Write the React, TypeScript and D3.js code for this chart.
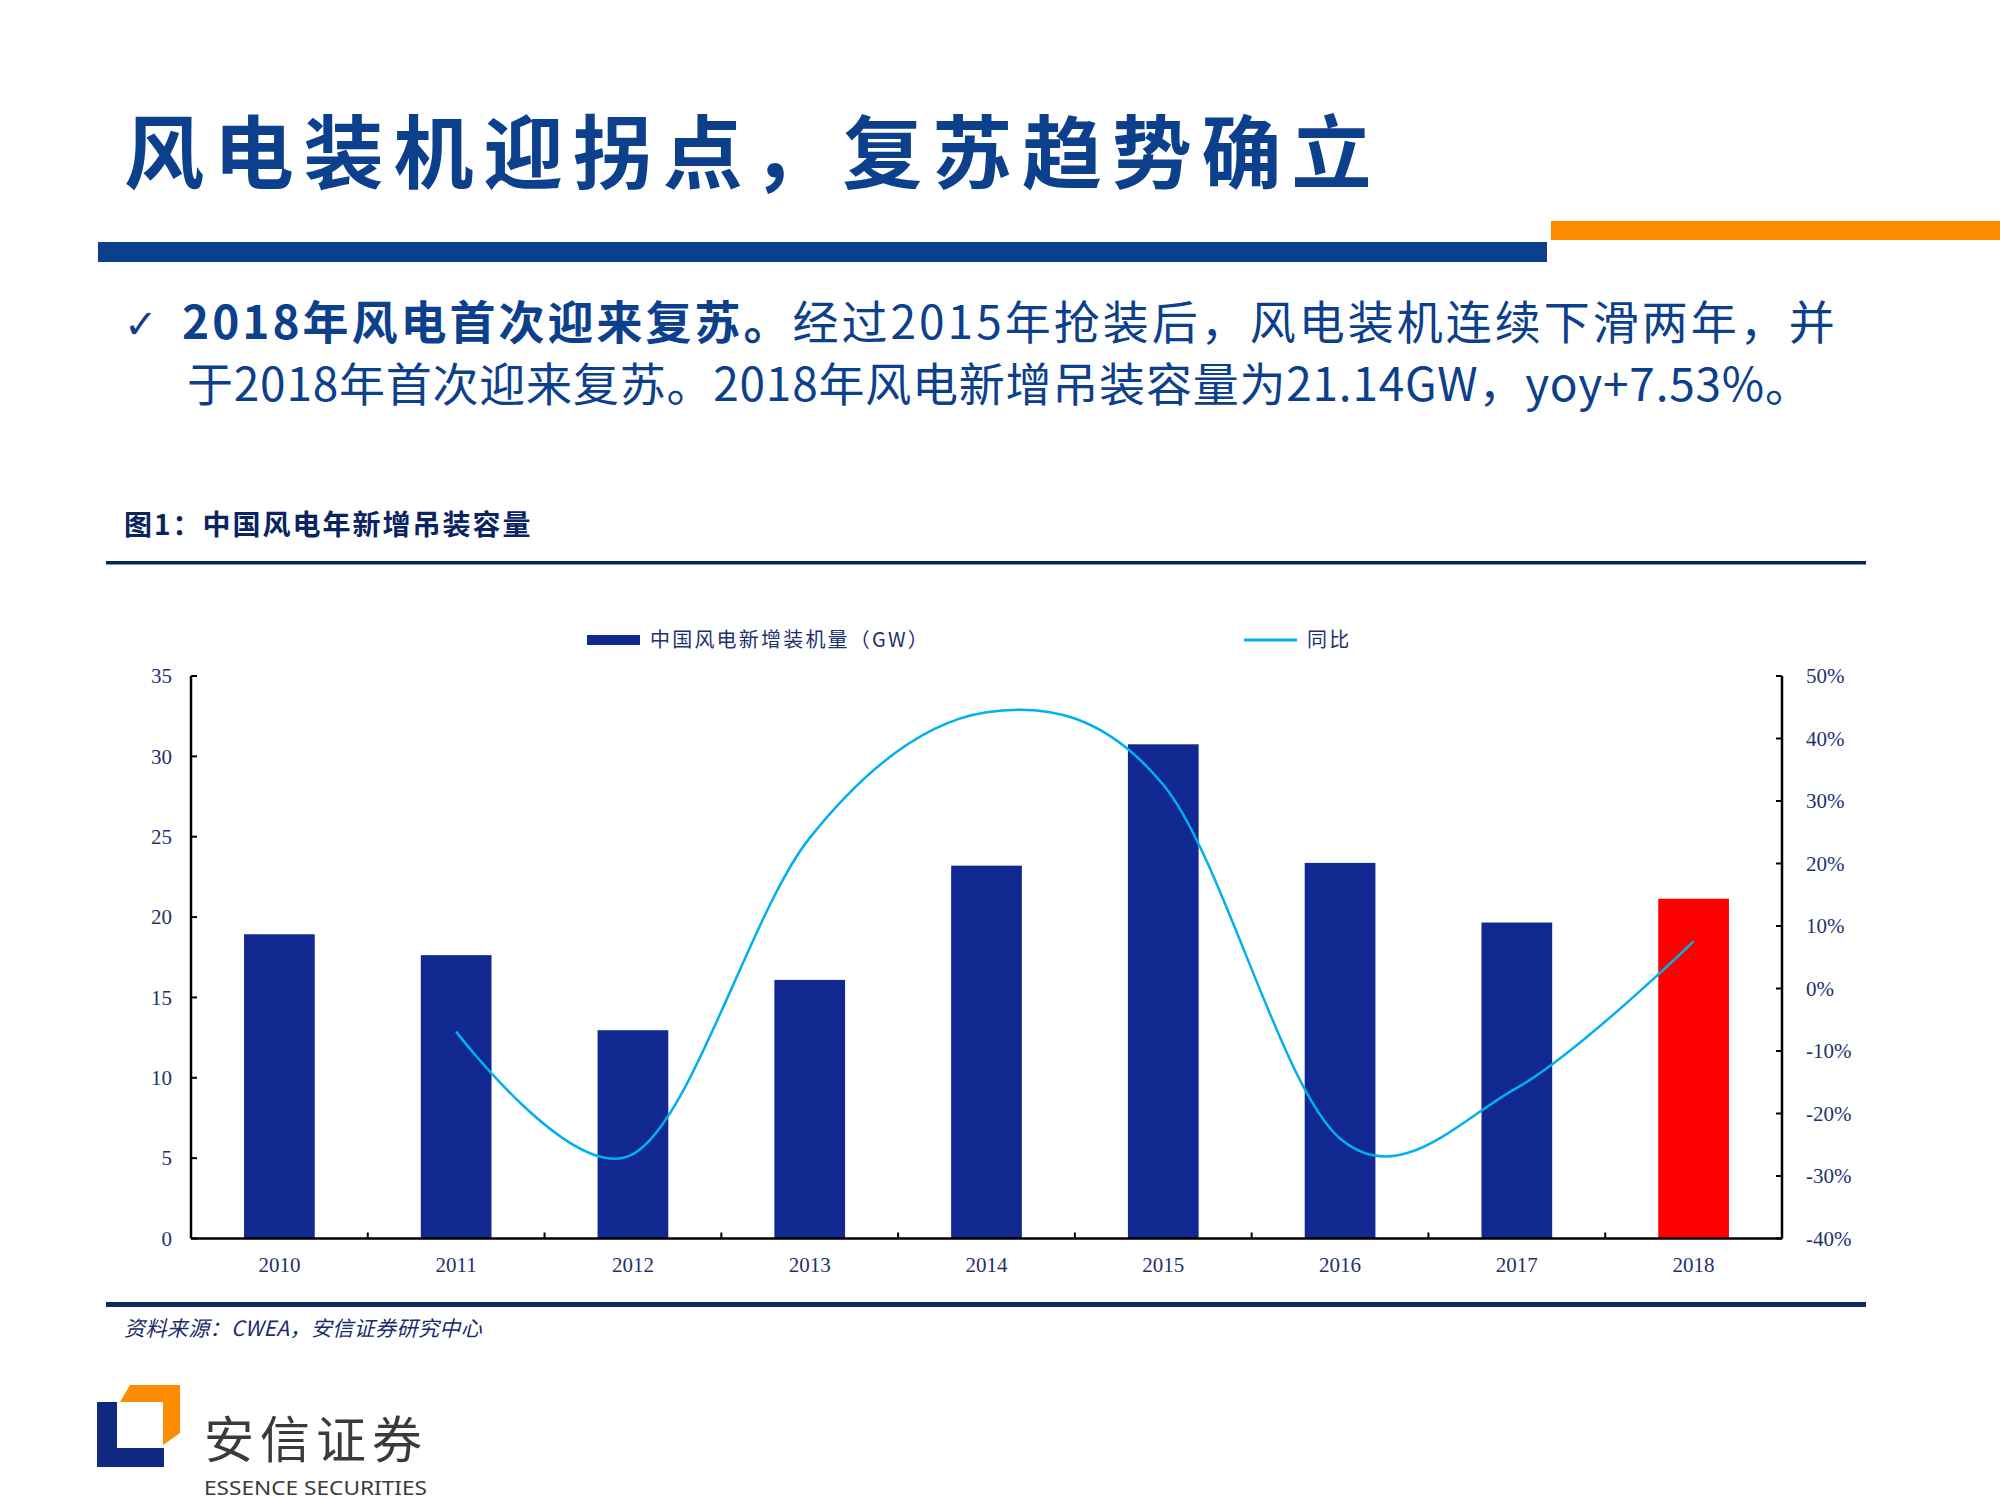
import * as d3 from "d3";

// 中国风电年新增吊装容量 (GW) and 同比
const years = ["2010", "2011", "2012", "2013", "2014", "2015", "2016", "2017", "2018"];
const capacity = [18.93, 17.63, 12.96, 16.09, 23.2, 30.75, 23.37, 19.66, 21.14];
const yoy: (number | null)[] = [null, -6.9, -26.5, 24.1, 44.2, 32.6, -24.0, -15.9, 7.53];
const leftTicks = [0, 5, 10, 15, 20, 25, 30, 35];
const rightTicks = [-40, -30, -20, -10, 0, 10, 20, 30, 40, 50];

const W = 2000;
const H = 1500;
const PLOT = { left: 191, right: 1782, top: 676, bottom: 1238.5 };

const CJK = "'Noto Sans CJK SC', sans-serif";
const SERIF = "'Liberation Serif', 'DejaVu Serif', serif";
const NAVY = "#1f3070";
const BAR = "#10288f";
const LINE = "#00b0f0";

export default function App() {
    const x = d3
        .scaleBand()
        .domain(years)
        .range([PLOT.left, PLOT.right])
        .paddingInner(0.6)
        .paddingOuter(0.3);
    const step = x.step();
    const center = (y: string) => (x(y) as number) + x.bandwidth() / 2;

    const yLeft = d3.scaleLinear().domain([0, 35]).range([PLOT.bottom, PLOT.top]);
    const yRight = d3.scaleLinear().domain([-40, 50]).range([PLOT.bottom, PLOT.top]);

    const linePoints = years
        .map((y, i) => ({ year: y, v: yoy[i] }))
        .filter((d) => d.v !== null) as { year: string; v: number }[];

    const linePath = d3
        .line<{ year: string; v: number }>()
        .x((d) => center(d.year))
        .y((d) => yRight(d.v))
        .curve(d3.curveCardinal.tension(0))(linePoints);

    const bars = years.map((y, i) => (
        <rect
            key={y}
            x={x(y)}
            y={yLeft(capacity[i])}
            width={x.bandwidth()}
            height={PLOT.bottom - yLeft(capacity[i])}
            fill={y === "2018" ? "#ff0000" : BAR}
        />
    ));

    return (
        <div style={{ position: "absolute", left: 0, top: 0 }}>
            <svg width={W} height={H} style={{ display: "block", background: "#fff" }}>
                {/* title */}
                <text x={124} y={182} fontFamily={CJK} fontWeight={700} fontSize={80}
                    letterSpacing={9.8} fill="#0d408c">
                    风电装机迎拐点，复苏趋势确立
                </text>
                <rect x={98} y={242} width={1449} height={20} fill="#0d408c" />
                <rect x={1551} y={221} width={449} height={19} fill="#ff8c00" />

                {/* bullet */}
                <text x={124} y={338} fontFamily="'DejaVu Sans', sans-serif" fontWeight={700}
                    fontSize={40} fill="#0d408c">✓</text>
                <text x={182} y={339} fontFamily={CJK} fontSize={46} letterSpacing={3} fill="#0d408c">
                    <tspan fontWeight={700}>2018年风电首次迎来复苏。</tspan>
                    <tspan>经过2015年抢装后，风电装机连续下滑两年，并</tspan>
                </text>
                <text x={187} y={401} fontFamily={CJK} fontSize={46} textLength={1624}
                    lengthAdjust="spacing" fill="#0d408c">
                    于2018年首次迎来复苏。2018年风电新增吊装容量为21.14GW，yoy+7.53%。
                </text>

                {/* figure caption */}
                <text x={124} y={535} fontFamily={CJK} fontWeight={700} fontSize={28}
                    letterSpacing={2} fill="#0a2463">
                    图1：中国风电年新增吊装容量
                </text>
                <rect x={106} y={561} width={1760} height={3.5} fill="#0a2463" />

                {/* legend */}
                <rect x={587} y={635} width={53} height={10} fill={BAR} />
                <text x={650} y={647} fontFamily={CJK} fontSize={20} letterSpacing={2.2} fill={NAVY}>
                    中国风电新增装机量（GW）
                </text>
                <line x1={1244} x2={1297} y1={640} y2={640} stroke={LINE} strokeWidth={3} />
                <text x={1307} y={647} fontFamily={CJK} fontSize={20} letterSpacing={2.2} fill={NAVY}>
                    同比
                </text>

                {bars}

                <path d={linePath ?? ""} fill="none" stroke={LINE} strokeWidth={2.5} />

                {/* left axis */}
                <line x1={PLOT.left} x2={PLOT.left} y1={PLOT.top} y2={PLOT.bottom} stroke="#000" strokeWidth={2.5} />
                {leftTicks.map((t) => (
                    <g key={t}>
                        <line x1={PLOT.left} x2={PLOT.left + 6} y1={yLeft(t)} y2={yLeft(t)} stroke="#000" strokeWidth={2} />
                        <text x={172} y={yLeft(t)} dy="0.35em" textAnchor="end" fontFamily={SERIF}
                            fontSize={21} fill={NAVY}>{t}</text>
                    </g>
                ))}

                {/* right axis */}
                <line x1={PLOT.right} x2={PLOT.right} y1={PLOT.top} y2={PLOT.bottom} stroke="#000" strokeWidth={2.5} />
                {rightTicks.map((t) => (
                    <g key={t}>
                        <line x1={PLOT.right - 6} x2={PLOT.right} y1={yRight(t)} y2={yRight(t)} stroke="#000" strokeWidth={2} />
                        <text x={1806} y={yRight(t)} dy="0.35em" fontFamily={SERIF}
                            fontSize={21} fill={NAVY}>{t}%</text>
                    </g>
                ))}

                {/* x axis */}
                <line x1={PLOT.left} x2={PLOT.right} y1={PLOT.bottom} y2={PLOT.bottom} stroke="#000" strokeWidth={2.5} />
                {years.map((y, i) => (
                    <g key={y}>
                        <line x1={PLOT.left + (i + 1) * step} x2={PLOT.left + (i + 1) * step}
                            y1={PLOT.bottom} y2={PLOT.bottom - 6} stroke="#000" strokeWidth={2} />
                        <text x={center(y)} y={1272} textAnchor="middle" fontFamily={SERIF}
                            fontSize={21} fill={NAVY}>{y}</text>
                    </g>
                ))}

                {/* bottom rule and source */}
                <rect x={106} y={1302} width={1760} height={5} fill="#0b2a66" />
                <text x={124} y={1336} fontFamily={CJK} fontStyle="italic" fontSize={21}
                    letterSpacing={0.4} fill="#1a2a6a">
                    资料来源：CWEA，安信证券研究中心
                </text>

                {/* logo */}
                <polygon points="130,1385 180,1385 180,1433 163,1445 163,1402 120,1402" fill="#ff8c00" />
                <polygon points="97,1402 117,1402 117,1448 164,1448 164,1467 97,1467" fill="#0f2a80" />
                <text x={204} y={1458} fontFamily={CJK} fontSize={50} letterSpacing={6} fill="#3a3a3a">
                    安信证券
                </text>
                <text x={204} y={1495} fontFamily="'Noto Sans', sans-serif" fontSize={20}
                    textLength={223} lengthAdjust="spacingAndGlyphs" fill="#3a3a3a">
                    ESSENCE SECURITIES
                </text>
            </svg>
        </div>
    );
}
